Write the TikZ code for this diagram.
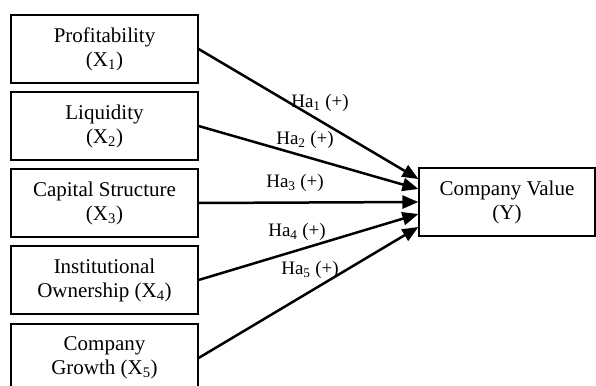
\documentclass[tikz,border=0pt]{standalone}
\usepackage{fontspec}
\setmainfont{Liberation Serif}
\usetikzlibrary{arrows.meta}
\begin{document}
\begin{tikzpicture}[x=1pt,y=-1pt,
  box/.style={draw,line width=1.2pt,minimum width=187pt,minimum height=68pt,align=center,inner sep=0pt,font=\fontsize{21}{24}\selectfont},
  link/.style={line width=2.5pt,-{Triangle[length=16pt,width=13pt]}},
  lab/.style={font=\fontsize{19}{21}\selectfont,inner sep=0pt}]
\useasboundingbox (0,0) rectangle (596,385);
\begin{scope}
\clip (0,0) rectangle (596,385);
\node[box] (b1) at (104.5,49) {Profitability\\(X\textsubscript{1})};
\node[box] (b2) at (104.5,126) {Liquidity\\(X\textsubscript{2})};
\node[box] (b3) at (104.5,203) {Capital Structure\\(X\textsubscript{3})};
\node[box] (b4) at (104.5,280) {Institutional\\Ownership (X\textsubscript{4})};
\node[box] (b5) at (104.5,358) {Company\\Growth (X\textsubscript{5})};
\node[box,minimum width=176pt] (y) at (507,202) {Company Value\\(Y)};
\end{scope}
\draw[link] (b1.east) -- ([yshift=23pt]y.west);
\draw[link] (b2.east) -- ([yshift=13pt]y.west);
\draw[link] (b3.east) -- (y.west);
\draw[link] (b4.east) -- ([yshift=-12pt]y.west);
\draw[link] (b5.east) -- ([yshift=-25pt]y.west);
\node[lab] (l1) at (320,103) {Ha\textsubscript{1} (+)};
\node[lab] (l2) at (305,140) {Ha\textsubscript{2} (+)};
\node[lab] (l3) at (295,183) {Ha\textsubscript{3} (+)};
\node[lab] (l4) at (297,232) {Ha\textsubscript{4} (+)};
\node[lab] (l5) at (310,270) {Ha\textsubscript{5} (+)};
\end{tikzpicture}
\end{document}
